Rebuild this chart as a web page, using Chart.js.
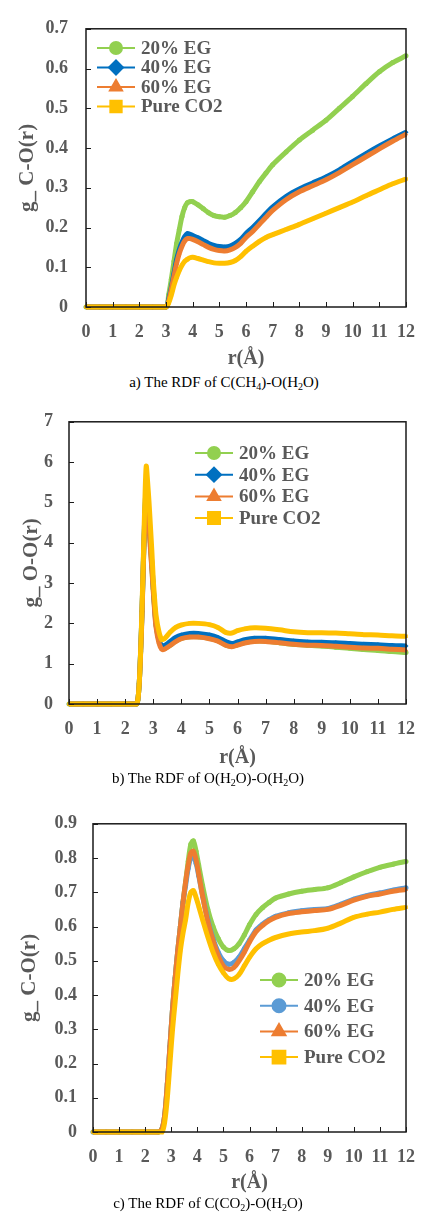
<!DOCTYPE html>
<html>
<head>
<meta charset="utf-8">
<script src="https://cdn.jsdelivr.net/npm/chart.js@4.4.0/dist/chart.umd.min.js"></script>
<style>
  body { margin: 0; background: #fff; width: 430px; height: 1212px; position: relative; overflow: hidden; }
  canvas { position: absolute; left: 0; }
  .caption { position: absolute; transform: translateX(-50%); white-space: nowrap;
             font-family: 'Liberation Serif', 'Times New Roman', serif; font-size: 15px; line-height: 18px; color: #000; }
  .caption sub { font-size: 10px; vertical-align: -3px; line-height: 0; }
</style>
</head>
<body>
<canvas id="chartA" width="430" height="372" style="top:0px"></canvas>
<div class="caption" style="left:224px;top:373px">a) The RDF of C(CH<sub>4</sub>)-O(H<sub>2</sub>O)</div>
<canvas id="chartB" width="430" height="375" style="top:395px"></canvas>
<div class="caption" style="left:208px;top:769px">b) The RDF of O(H<sub>2</sub>O)-O(H<sub>2</sub>O)</div>
<canvas id="chartC" width="430" height="398" style="top:797px"></canvas>
<div class="caption" style="left:208px;top:1194px">c) The RDF of C(CO<sub>2</sub>)-O(H<sub>2</sub>O)</div>

<script>
// ---- data ----
const seriesNames = ['20% EG', '40% EG', '60% EG', 'Pure CO2'];

// a) C(CH4)-O(H2O)
const rA = [0, 0.5, 1, 1.5, 2, 2.5, 3, 3.1, 3.2, 3.3, 3.4, 3.5, 3.6, 3.7, 3.8, 3.9, 4.0, 4.2, 4.4, 4.6, 4.8, 5.0,
            5.2, 5.4, 5.6, 5.8, 6.0, 6.25, 6.5, 6.75, 7.0, 7.5, 8, 8.5, 9, 9.5, 10, 10.5, 11, 11.5, 12];
const aEG20 = [0, 0, 0, 0, 0, 0, 0, 0.03, 0.07, 0.115, 0.16, 0.195, 0.228, 0.25, 0.262, 0.265, 0.265, 0.257, 0.247, 0.237, 0.23, 0.227,
               0.226, 0.23, 0.238, 0.25, 0.265, 0.29, 0.315, 0.337, 0.358, 0.39, 0.42, 0.445, 0.47, 0.5, 0.53, 0.562, 0.592, 0.615, 0.632];
const aEG40 = [0, 0, 0, 0, 0, 0, 0, 0.02, 0.05, 0.085, 0.12, 0.145, 0.163, 0.177, 0.185, 0.183, 0.18, 0.174, 0.167, 0.16, 0.155, 0.152,
               0.151, 0.153, 0.16, 0.17, 0.185, 0.2, 0.217, 0.235, 0.252, 0.278, 0.297, 0.312, 0.327, 0.345, 0.366, 0.386, 0.405, 0.423, 0.44];
const aEG60 = [0, 0, 0, 0, 0, 0, 0, 0.015, 0.045, 0.078, 0.11, 0.135, 0.153, 0.166, 0.172, 0.172, 0.17, 0.164, 0.157, 0.15, 0.145, 0.142,
               0.141, 0.144, 0.15, 0.16, 0.175, 0.19, 0.208, 0.226, 0.243, 0.27, 0.29, 0.305, 0.32, 0.338, 0.358, 0.378, 0.398, 0.417, 0.435];
const aCO2  = [0, 0, 0, 0, 0, 0, 0, 0.01, 0.03, 0.055, 0.075, 0.092, 0.105, 0.115, 0.12, 0.124, 0.125, 0.122, 0.118, 0.114, 0.111, 0.11,
               0.11, 0.112, 0.117, 0.127, 0.14, 0.153, 0.165, 0.175, 0.182, 0.195, 0.208, 0.222, 0.236, 0.25, 0.264, 0.28, 0.295, 0.31, 0.322];

// b) O(H2O)-O(H2O)
const rB = [0, 0.5, 1, 1.5, 2, 2.4, 2.45, 2.5, 2.55, 2.6, 2.65, 2.7, 2.75, 2.8, 2.85, 2.9, 2.95, 3.0, 3.05, 3.1, 3.2, 3.3,
            3.4, 3.6, 3.8, 4.0, 4.3, 4.6, 5.0, 5.3, 5.6, 5.8, 6.0, 6.3, 6.6, 7.0, 7.5, 8.0, 8.5, 9, 9.5, 10, 10.5, 11, 11.5, 12];
const bEG20 = [0, 0, 0, 0, 0, 0, 0.1, 0.5, 1.3, 2.3, 3.5, 4.6, 5.3, 5.0, 4.5, 3.9, 3.4, 2.85, 2.35, 1.95, 1.58, 1.4,
               1.38, 1.46, 1.56, 1.63, 1.67, 1.67, 1.63, 1.57, 1.46, 1.43, 1.47, 1.53, 1.56, 1.56, 1.52, 1.48, 1.46, 1.44, 1.41, 1.38, 1.35, 1.33, 1.3, 1.28];
const bEG40 = [0, 0, 0, 0, 0, 0, 0.1, 0.5, 1.3, 2.3, 3.6, 4.7, 5.4, 5.1, 4.6, 4.0, 3.5, 2.9, 2.4, 2.0, 1.6, 1.45,
               1.45, 1.55, 1.65, 1.71, 1.75, 1.75, 1.71, 1.65, 1.54, 1.5, 1.54, 1.6, 1.63, 1.63, 1.6, 1.56, 1.54, 1.53, 1.52, 1.5, 1.48, 1.47, 1.45, 1.44];
const bEG60 = [0, 0, 0, 0, 0, 0, 0.1, 0.5, 1.25, 2.2, 3.5, 4.5, 5.25, 4.95, 4.45, 3.85, 3.35, 2.8, 2.3, 1.9, 1.52, 1.36,
               1.36, 1.45, 1.55, 1.62, 1.66, 1.66, 1.62, 1.56, 1.45, 1.42, 1.46, 1.52, 1.55, 1.55, 1.52, 1.48, 1.46, 1.45, 1.43, 1.41, 1.39, 1.38, 1.36, 1.34];
const bCO2  = [0, 0, 0, 0, 0, 0, 0.1, 0.5, 1.3, 2.4, 3.7, 5.0, 5.9, 5.5, 5.0, 4.4, 3.8, 3.1, 2.6, 2.2, 1.8, 1.6,
               1.62, 1.78, 1.9, 1.96, 2.0, 2.0, 1.97, 1.9, 1.77, 1.76, 1.82, 1.87, 1.89, 1.88, 1.84, 1.79, 1.77, 1.77, 1.76, 1.74, 1.72, 1.71, 1.69, 1.68];

// c) C(CO2)-O(H2O)
const rC = [0, 0.5, 1, 1.5, 2, 2.5, 2.65, 2.75, 2.85, 2.95, 3.05, 3.15, 3.25, 3.35, 3.45, 3.55, 3.65, 3.75, 3.85, 3.95, 4.05,
            4.2, 4.4, 4.6, 4.8, 5.0, 5.2, 5.4, 5.6, 5.8, 6.0, 6.25, 6.5, 6.75, 7.0, 7.5, 8.0, 8.5, 9.0, 9.5, 10, 10.5, 11, 11.5, 12];
const cEG20 = [0, 0, 0, 0, 0, 0, 0.01, 0.05, 0.14, 0.25, 0.36, 0.45, 0.53, 0.6, 0.67, 0.73, 0.79, 0.84, 0.85, 0.82, 0.78,
               0.72, 0.65, 0.6, 0.565, 0.54, 0.53, 0.535, 0.55, 0.575, 0.605, 0.635, 0.655, 0.67, 0.683, 0.695, 0.703, 0.708, 0.713, 0.728, 0.745, 0.76, 0.773, 0.782, 0.79];
const cEG40 = [0, 0, 0, 0, 0, 0, 0.01, 0.05, 0.14, 0.25, 0.36, 0.45, 0.53, 0.6, 0.67, 0.72, 0.77, 0.8, 0.805, 0.785, 0.75,
               0.69, 0.62, 0.565, 0.525, 0.5, 0.49, 0.495, 0.51, 0.535, 0.56, 0.59, 0.607, 0.62, 0.63, 0.64, 0.646, 0.65, 0.652, 0.665, 0.68, 0.69, 0.698, 0.706, 0.713];
const cEG60 = [0, 0, 0, 0, 0, 0, 0.01, 0.05, 0.14, 0.25, 0.36, 0.45, 0.53, 0.6, 0.67, 0.73, 0.78, 0.815, 0.82, 0.795, 0.755,
               0.69, 0.615, 0.56, 0.515, 0.485, 0.475, 0.48, 0.5, 0.525, 0.555, 0.585, 0.603, 0.617, 0.627, 0.638, 0.643, 0.647, 0.65, 0.662, 0.677, 0.688, 0.695, 0.703, 0.708];
const cCO2  = [0, 0, 0, 0, 0, 0, 0, 0.03, 0.1, 0.2, 0.3, 0.38, 0.46, 0.53, 0.58, 0.62, 0.67, 0.7, 0.705, 0.685, 0.66,
               0.62, 0.57, 0.525, 0.49, 0.465, 0.448, 0.447, 0.46, 0.485, 0.51, 0.535, 0.55, 0.56, 0.568, 0.578, 0.584, 0.588, 0.595, 0.61, 0.627, 0.636, 0.642, 0.65, 0.656];

const xTicks = [0, 1, 2, 3, 4, 5, 6, 7, 8, 9, 10, 11, 12];

// ---- styling ----
const serif = '"Liberation Serif", serif';
const gray = '#595959';
const green = '#92D050', blue = '#0070C0', lightBlue = '#5B9BD5', orange = '#ED7D31', yellow = '#FFC000';

// box + inward tick marks + excel style legend
const excelPlugin = {
  id: 'excelLook',
  afterDatasetsDraw(chart) {
    const ctx = chart.ctx;
    const area = chart.chartArea;
    const xs = chart.scales.x, ys = chart.scales.y;
    ctx.save();
    ctx.strokeStyle = '#1a1a1a';
    ctx.lineWidth = 1.5;
    ctx.strokeRect(area.left, area.top, area.right - area.left, area.bottom - area.top);
    ctx.beginPath();
    xs.ticks.forEach(t => {
      const px = Math.round(xs.getPixelForValue(t.value)) + 0.5;
      ctx.moveTo(px, area.bottom);
      ctx.lineTo(px, area.bottom - 5);
    });
    ys.ticks.forEach(t => {
      const py = Math.round(ys.getPixelForValue(t.value)) + 0.5;
      ctx.moveTo(area.left, py);
      ctx.lineTo(area.left + 5, py);
    });
    ctx.lineWidth = 1;
    ctx.stroke();

    const lg = chart.options.plugins.excelLook;
    chart.data.datasets.forEach((ds, i) => {
      const y = lg.y + i * lg.dy;
      ctx.strokeStyle = ds.borderColor;
      ctx.fillStyle = ds.borderColor;
      ctx.lineWidth = 2;
      ctx.beginPath();
      ctx.moveTo(lg.x - 19, y);
      ctx.lineTo(lg.x + 19, y);
      ctx.stroke();
      Chart.helpers.drawPoint(ctx, {pointStyle: ds.pointStyle, radius: lg.radius[i], rotation: 0, borderWidth: 1}, lg.x, y);
      ctx.fillStyle = gray;
      ctx.font = 'bold 19px ' + serif;
      ctx.textAlign = 'left';
      ctx.textBaseline = 'middle';
      ctx.fillText(ds.label, lg.x + 25, y + 1);
    });
    ctx.restore();
  }
};

function makeSet(label, xs, ys, color, style, order) {
  return {
    label: label,
    data: xs.map((r, i) => ({x: r, y: ys[i]})),
    borderColor: color,
    backgroundColor: color,
    borderWidth: 5,
    pointStyle: style,
    pointRadius: 2.5,
    pointBorderWidth: 0,
    tension: 0.3,
    order: order,
    clip: 6
  };
}

function makePanel(id, sets, g) {
  return new Chart(document.getElementById(id), {
    type: 'line',
    data: {datasets: sets},
    options: {
      responsive: false,
      animation: false,
      layout: {padding: {left: 0, right: 11, top: g.top, bottom: 0}},
      scales: {
        x: {
          type: 'linear', min: 0, max: 12,
          afterBuildTicks: s => { s.ticks = xTicks.map(v => ({value: v})); },
          afterFit: s => { s.height = g.xHeight; },
          grid: {display: false, drawTicks: false}, border: {display: false},
          ticks: {autoSkip: false, maxRotation: 0, padding: 15, color: gray,
                  font: {family: serif, size: 18, weight: 'bold', lineHeight: 1.2}},
          title: {display: true, text: 'r(Å)', color: gray, padding: {top: 0, bottom: g.xTitlePad},
                  font: {family: serif, size: 20, weight: 'bold', lineHeight: 1}}
        },
        y: {
          min: 0, max: g.yMax,
          ticks: {stepSize: g.yStep, padding: g.yTickPad, color: gray,
                  font: {family: serif, size: 18, weight: 'bold', lineHeight: 1.2}},
          afterFit: s => { s.width = g.left; },
          grid: {display: false, drawTicks: false}, border: {display: false},
          title: {display: true, text: g.yTitle, color: gray, padding: {top: g.yTitlePad, bottom: 0},
                  font: {family: serif, size: 21, weight: 'bold', lineHeight: 1}}
        }
      },
      plugins: {
        legend: {display: false},
        tooltip: {enabled: false},
        excelLook: g.legend
      }
    },
    plugins: [excelPlugin]
  });
}

function drawAll() {
  makePanel('chartA', [
    makeSet(seriesNames[0], rA, aEG20, green, 'circle', 3),
    makeSet(seriesNames[1], rA, aEG40, blue, 'rectRot', 2),
    makeSet(seriesNames[2], rA, aEG60, orange, 'triangle', 1),
    makeSet(seriesNames[3], rA, aCO2, yellow, 'rect', 0)
  ], {top: 18, xHeight: 65, xTitlePad: 3, left: 86, yTickPad: 18, yMax: 0.7, yStep: 0.1, yTitle: 'g_ C-O(r)', yTitlePad: 17,
      legend: {x: 116, y: 48, dy: 19.5, radius: [6, 7, 7, 8]}});

  makePanel('chartB', [
    makeSet(seriesNames[0], rB, bEG20, green, 'circle', 3),
    makeSet(seriesNames[1], rB, bEG40, blue, 'rectRot', 2),
    makeSet(seriesNames[2], rB, bEG60, orange, 'triangle', 1),
    makeSet(seriesNames[3], rB, bCO2, yellow, 'rect', 0)
  ], {top: 19, xHeight: 66, xTitlePad: 2, left: 69, yTickPad: 16, yMax: 7, yStep: 1, yTitle: 'g_ O-O(r)', yTitlePad: 21,
      legend: {x: 214, y: 58, dy: 21.7, radius: [6, 7, 7, 8.5]}});

  makePanel('chartC', [
    makeSet(seriesNames[0], rC, cEG20, green, 'circle', 3),
    makeSet(seriesNames[1], rC, cEG40, lightBlue, 'circle', 2),
    makeSet(seriesNames[2], rC, cEG60, orange, 'triangle', 1),
    makeSet(seriesNames[3], rC, cCO2, yellow, 'rect', 0)
  ], {top: 21, xHeight: 63, xTitlePad: 2, left: 93, yTickPad: 16, yMax: 0.9, yStep: 0.1, yTitle: 'g_ C-O(r)', yTitlePad: 19,
      legend: {x: 279, y: 183, dy: 25.7, radius: [6.5, 6.5, 7.5, 9]}});
}

// make sure the serif face is ready before the canvases draw text
Promise.all([
  document.fonts.load('bold 18px "Liberation Serif"'),
  document.fonts.load('18px "Liberation Serif"')
]).then(drawAll, drawAll);
</script>
</body>
</html>
